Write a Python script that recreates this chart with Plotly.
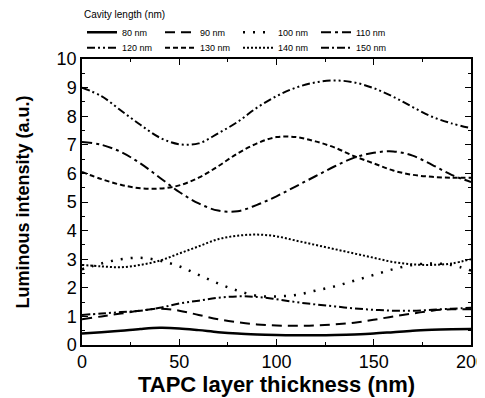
import plotly.graph_objects as go

x = [0, 10, 20, 30, 40, 50, 60, 70, 80, 90, 100, 110, 120, 130, 140, 150, 160, 170, 180, 190, 200]

names = ["80 nm", "90 nm", "100 nm", "110 nm", "120 nm", "130 nm", "140 nm", "150 nm"]

y80 = [0.40, 0.45, 0.50, 0.56, 0.60, 0.58, 0.52, 0.45, 0.40, 0.37, 0.35, 0.34, 0.34, 0.35, 0.37, 0.40, 0.45, 0.50, 0.53, 0.55, 0.56]
y90 = [0.90, 1.00, 1.10, 1.20, 1.27, 1.20, 1.05, 0.90, 0.80, 0.72, 0.68, 0.67, 0.68, 0.72, 0.78, 0.88, 1.00, 1.10, 1.20, 1.25, 1.25]
y100 = [2.65, 2.85, 3.00, 3.05, 2.95, 2.75, 2.45, 2.15, 1.90, 1.72, 1.70, 1.75, 1.90, 2.05, 2.25, 2.45, 2.65, 2.80, 2.85, 2.80, 2.60]
y110 = [7.10, 7.00, 6.75, 6.35, 5.85, 5.35, 4.95, 4.70, 4.68, 4.90, 5.20, 5.55, 5.90, 6.25, 6.55, 6.72, 6.77, 6.62, 6.30, 5.95, 5.70]
y120 = [9.00, 8.70, 8.20, 7.70, 7.25, 7.02, 7.05, 7.40, 7.80, 8.30, 8.70, 9.00, 9.18, 9.25, 9.18, 8.98, 8.68, 8.32, 7.98, 7.75, 7.58]
y130 = [6.05, 5.80, 5.60, 5.48, 5.47, 5.58, 5.85, 6.25, 6.70, 7.05, 7.27, 7.27, 7.12, 6.90, 6.60, 6.35, 6.10, 5.95, 5.88, 5.85, 5.85]
y140 = [2.80, 2.75, 2.72, 2.80, 2.95, 3.20, 3.45, 3.70, 3.82, 3.86, 3.80, 3.65, 3.50, 3.35, 3.20, 3.05, 2.90, 2.82, 2.80, 2.85, 3.00]
y150 = [1.05, 1.10, 1.15, 1.20, 1.30, 1.45, 1.55, 1.65, 1.70, 1.68, 1.60, 1.50, 1.42, 1.35, 1.28, 1.23, 1.20, 1.20, 1.23, 1.27, 1.30]

series = [y80, y90, y100, y110, y120, y130, y140, y150]
dashes = ["solid", "10px,6px", "2px,8px", "10px,4px,3px,4px",
          "8px,3px,2px,3px,2px,3px", "5px,3px", "2px,2px",
          "8px,3px,2px,3px,8px,3px,2px,3px,2px,3px"]
widths = [2.5, 2, 2.5, 2, 2, 2, 2, 2]
legends = ["legend"] * 4 + ["legend2"] * 4

fig = go.Figure()
for n, ys, d, w, lg in zip(names, series, dashes, widths, legends):
    fig.add_trace(go.Scatter(x=x, y=ys, name=n, mode="lines", legend=lg,
                             line=dict(color="black", dash=d, width=w, shape="spline")))

axis_common = dict(showline=True, linecolor="black", linewidth=1.5, mirror="ticks",
                   ticks="inside", ticklen=6, tickcolor="black", showgrid=False,
                   zeroline=False, ticklabeloverflow="allow",
                   tickfont=dict(family="Arial, Liberation Sans", size=18, color="black"))

leg_common = dict(orientation="h", x=0, xanchor="left", yanchor="top",
                  entrywidth=33, entrywidthmode="pixels", itemwidth=30,
                  font=dict(size=9), bgcolor="rgba(0,0,0,0)", tracegroupgap=0)

fig.update_layout(
    width=477, height=390,
    margin=dict(l=74, r=14, t=51, b=53, autoexpand=False),
    paper_bgcolor="white", plot_bgcolor="white",
    font=dict(family="Arial, Liberation Sans", color="black"),
    xaxis=dict(range=[0, 200], tickvals=[0, 50, 100, 150, 200],
               minor=dict(ticks="inside", ticklen=3, dtick=25, tickcolor="black"),
               title=dict(text="<b>TAPC layer thickness (nm)</b>", font=dict(size=22), standoff=0),
               **axis_common),
    yaxis=dict(range=[0, 10], dtick=1,
               minor=dict(ticks="inside", ticklen=3, dtick=0.5, tickcolor="black"),
               title=dict(text="<b>Luminous intensity (a.u.)</b>", font=dict(size=18), standoff=22),
               **axis_common),
    legend=dict(y=1.19, title=dict(text="Cavity length (nm)", side="top", font=dict(size=10)),
                **leg_common),
    legend2=dict(y=1.09, **leg_common),
    showlegend=True,
)

fig.write_html("out.html")
